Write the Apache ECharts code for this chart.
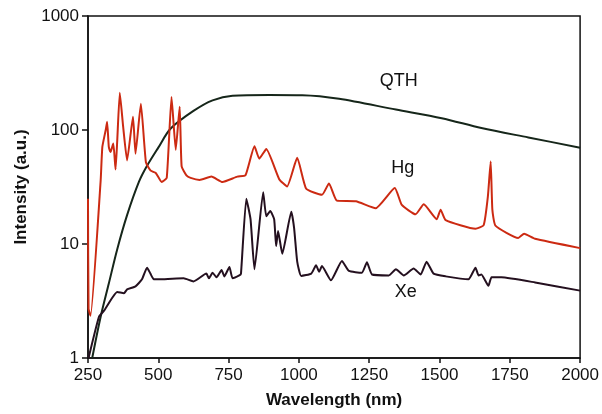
<!DOCTYPE html>
<html>
<head>
<meta charset="utf-8">
<title>Lamp spectra</title>
<script src="https://cdn.jsdelivr.net/npm/echarts@6/dist/echarts.min.js"></script>
<style>
    html, body { margin: 0; padding: 0; background: #fff; }
    #chartBox { width: 602px; height: 414px; }
</style>
</head>
<body>
<div id="chartBox"></div>
<script>
// x ticks
var xTicks = [250, 500, 750, 1000, 1250, 1500, 1750, 2000];
var yTicks = [1, 10, 100, 1000];

// QTH lamp
var qthWl  = [265, 295, 324, 354, 389, 431, 459, 500, 544, 625, 693, 764, 895, 1012, 1143, 1345, 1508, 1649, 1816, 2000];
var qthVal = [1, 2.3, 4.5, 9.0, 17.9, 35, 48, 70, 103, 147, 182, 200, 203, 202, 188, 151, 127, 104, 86, 70];

// Hg lamp
var hgWl  = [250, 252, 259, 295, 301, 313, 318, 324, 330, 340, 348, 354, 363, 375, 389, 410, 419, 438, 456, 473, 491, 512, 530,
             547, 562, 576, 583, 600, 615, 647, 689, 728, 781, 810, 842, 859, 884, 930, 958, 994, 1026, 1082, 1107, 1135,
             1203, 1273, 1341, 1366, 1415, 1444, 1490, 1504, 1522, 1628, 1657, 1672, 1682, 1688, 1699, 1780, 1801, 1840, 2000];
var hgVal = [25, 2.7, 2.35, 36, 71, 100, 118, 71, 64, 76, 45, 81, 212, 107, 54, 131, 62, 170, 52, 44, 42, 35, 38,
             195, 67, 160, 48, 40, 38, 36.5, 39, 35, 39, 40, 72, 56, 68, 37, 32, 57, 30.5, 27, 34, 24,
             23.7, 20.6, 31, 22, 18.2, 22.3, 16.5, 20, 16.2, 13.6, 14.6, 26, 53, 20, 14.5, 11.3, 12.3, 11.1, 9.2];

// Xe lamp
var xeWl  = [252, 289, 307, 354, 378, 389, 419, 442, 460, 472, 484, 509, 590, 625, 671, 680, 693, 707, 725, 735, 753, 764, 788,
             794, 813, 828, 842, 873, 884, 898, 912, 919, 926, 941, 973, 983, 994, 1008, 1044, 1061, 1072, 1082, 1114,
             1153, 1178, 1224, 1242, 1260, 1320, 1345, 1373, 1408, 1433, 1454, 1479, 1522, 1603, 1628, 1639, 1649,
             1674, 1685, 1720, 1840, 2000];
var xeVal = [1, 2.3, 2.6, 3.8, 3.7, 4.0, 4.25, 4.9, 6.2, 5.5, 4.9, 4.9, 5.0, 4.7, 5.5, 5.0, 5.6, 5.1, 5.9, 5.2, 6.3, 5.0, 5.3,
             5.5, 25, 16.5, 6.0, 28.5, 17.5, 19.5, 16.5, 9.6, 13, 8.2, 19.2, 13.8, 7.0, 5.25, 5.5, 6.5, 5.7, 6.4, 4.8,
             7.1, 5.8, 5.6, 6.9, 5.4, 5.3, 6.0, 5.3, 6.1, 5.4, 7.0, 5.5, 5.2, 4.9, 6.2, 5.3, 5.4,
             4.3, 5.1, 5.1, 4.6, 3.9];

// curve names and where they are written (data coords)
var labelNames = ['QTH', 'Hg', 'Xe'];
var labelAt = [[1355, 267], [1369, 46], [1380, 3.8]];

var colors = ['#16261a', '#cc2a12', '#24101f'];

function pairs(xs, ys) {
    var out = [];
    for (var i = 0; i < xs.length; i++) out.push([xs[i], ys[i]]);
    return out;
}

function curve(idx, xs, ys, smooth) {
    return {
        name: labelNames[idx],
        type: 'line',
        data: pairs(xs, ys),
        smooth: smooth,
        showSymbol: false,
        symbol: 'none',
        lineStyle: { color: colors[idx], width: 2 },
        markPoint: {
            symbol: 'circle',
            symbolSize: 0,
            label: {
                show: true,
                position: 'inside',
                formatter: labelNames[idx],
                color: '#111',
                fontSize: 18,
                fontFamily: 'Liberation Sans'
            },
            data: [{ coord: labelAt[idx] }]
        }
    };
}

var myChart = echarts.init(document.getElementById('chartBox'));

var axisFont = { color: '#111', fontSize: 17, fontFamily: 'Liberation Sans' };

var option = {
    animation: false,
    grid: {
        left: 88, right: 21, top: 16, bottom: 54,
        show: true,
        borderColor: '#111',
        borderWidth: 1.5
    },
    xAxis: {
        type: 'value',
        min: xTicks[0],
        max: xTicks[xTicks.length - 1],
        interval: 250,
        name: 'Wavelength (nm)',
        nameLocation: 'middle',
        nameGap: 34,
        nameTextStyle: { color: '#111', fontSize: 17, fontWeight: 'bold', fontFamily: 'Liberation Sans' },
        axisLine: { lineStyle: { color: '#111', width: 1.5 } },
        axisTick: { inside: false, length: 5, lineStyle: { color: '#111', width: 1.5 } },
        axisLabel: Object.assign({ margin: 9, formatter: function (v) { return String(v); } }, axisFont),
        splitLine: { show: false }
    },
    yAxis: {
        type: 'log',
        logBase: 10,
        min: yTicks[0],
        max: yTicks[yTicks.length - 1],
        name: 'Intensity (a.u.)',
        nameLocation: 'middle',
        nameGap: 56,
        nameTextStyle: { color: '#111', fontSize: 17, fontWeight: 'bold', fontFamily: 'Liberation Sans' },
        axisLine: { show: true, lineStyle: { color: '#111', width: 1.5 } },
        axisTick: { inside: false, length: 6, lineStyle: { color: '#111', width: 1.5 } },
        axisLabel: Object.assign({ margin: 9, formatter: function (v) { return String(Math.round(v)); } }, axisFont),
        minorTick: { show: false },
        splitLine: { show: false }
    },
    series: [
        curve(0, qthWl, qthVal, 0.3),
        curve(1, hgWl, hgVal, 0.15),
        curve(2, xeWl, xeVal, 0.15)
    ]
};
myChart.setOption(option);
</script>
</body>
</html>
